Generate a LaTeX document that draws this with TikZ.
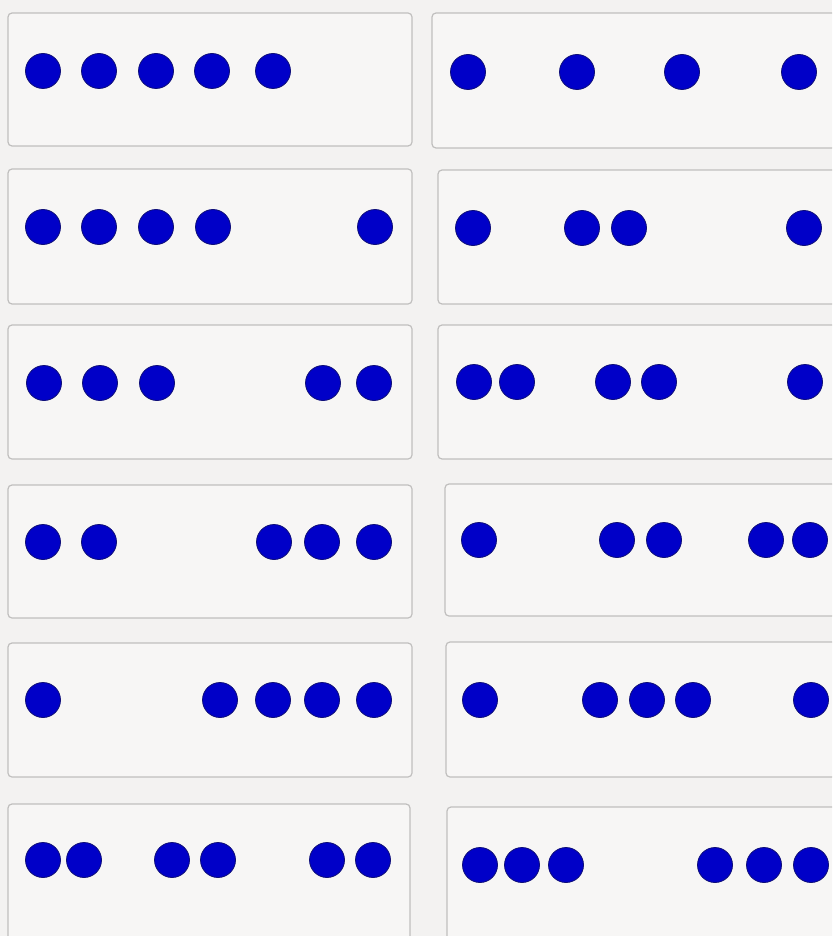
\documentclass[tikz,border=0pt]{standalone}
\definecolor{bgc}{RGB}{243,242,241}
\definecolor{boxc}{RGB}{247,246,245}
\definecolor{edgec}{RGB}{192,191,190}
\definecolor{dotc}{RGB}{0,0,200}
\definecolor{dotedge}{RGB}{15,15,120}
\tikzset{
  panel/.style={draw=edgec, line width=1.2pt, fill=boxc, rounded corners=4pt},
  dot/.style={circle, fill=dotc, draw=dotedge, line width=0.8pt, minimum size=35pt, inner sep=0pt}
}
\begin{document}
\begin{tikzpicture}[x=1pt,y=-1pt]
\clip (0,0) rectangle (832,936);
\fill[bgc] (0,0) rectangle (832,936);
% left column panels
\draw[panel] (8,13) rectangle (412,146);
\draw[panel] (8,169) rectangle (412,304);
\draw[panel] (8,325) rectangle (412,459);
\draw[panel] (8,485) rectangle (412,618);
\draw[panel] (8,643) rectangle (412,777);
\draw[panel] (8,804) rectangle (410,950);
% right column panels
\draw[panel] (432,13) rectangle (845,148);
\draw[panel] (438,170) rectangle (845,304);
\draw[panel] (438,325) rectangle (845,459);
\draw[panel] (445,484) rectangle (845,616);
\draw[panel] (446,642) rectangle (845,777);
\draw[panel] (447,807) rectangle (845,950);
% dots, left column
\foreach \x [count=\i] in {43,99,156,212,273} \node[dot] (La\i) at (\x,71) {};
\foreach \x [count=\i] in {43,99,156,213,375} \node[dot] (Lb\i) at (\x,227) {};
\foreach \x [count=\i] in {44,100,157,323,374} \node[dot] (Lc\i) at (\x,383) {};
\foreach \x [count=\i] in {43,99,274,322,374} \node[dot] (Ld\i) at (\x,542) {};
\foreach \x [count=\i] in {43,220,273,322,374} \node[dot] (Le\i) at (\x,700) {};
\foreach \x [count=\i] in {43,84,172,218,327,373} \node[dot] (Lf\i) at (\x,860) {};
% dots, right column
\foreach \x [count=\i] in {468,577,682,799} \node[dot] (Ra\i) at (\x,72) {};
\foreach \x [count=\i] in {473,582,629,804} \node[dot] (Rb\i) at (\x,228) {};
\foreach \x [count=\i] in {474,517,613,659,805} \node[dot] (Rc\i) at (\x,382) {};
\foreach \x [count=\i] in {479,617,664,766,810} \node[dot] (Rd\i) at (\x,540) {};
\foreach \x [count=\i] in {480,600,647,693,811} \node[dot] (Re\i) at (\x,700) {};
\foreach \x [count=\i] in {480,522,566,715,764,811} \node[dot] (Rf\i) at (\x,865) {};
\end{tikzpicture}
\end{document}
